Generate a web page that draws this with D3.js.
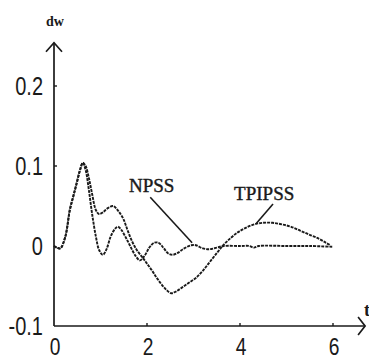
<!DOCTYPE html>
<html><head><meta charset="utf-8">
<script src="https://cdn.jsdelivr.net/npm/d3@7"></script>
<style>
html,body{margin:0;padding:0;background:#fff;}
svg{display:block;}
</style></head>
<body>
<svg id="c" width="369" height="361"></svg>
<script>
// ---- data ----
const xTicks = [0, 2, 4, 6];
const yTicks = [-0.1, 0, 0.1, 0.2];
const yTickLabels = ["-0.1", "0", "0.1", "0.2"];
const xTickLabels = ["0", "2", "4", "6"];

const npssTime = [0,0.13,0.24,0.34,0.41,0.49,0.56,0.62,0.68,0.75,0.82,0.9,0.97,1.05,1.13,1.22,1.32,1.38,1.45,1.55,1.63,1.75,1.85,1.95,2.05,2.15,2.25,2.35,2.45,2.55,2.65,2.8,2.95,3.05,3.2,3.35,3.5,3.65,4.0,4.2,4.3,4.4,5.0,5.5,6.0];
const npssValue = [0,-0.003,0.011,0.045,0.061,0.079,0.095,0.104,0.095,0.07,0.04,0.012,-0.005,-0.011,-0.004,0.012,0.022,0.024,0.02,0.01,0.001,-0.012,-0.018,-0.012,-0.002,0.004,0.004,-0.002,-0.009,-0.011,-0.009,-0.003,0.001,0.001,-0.003,-0.004,-0.002,0,0,0,-0.002,0,0,0,-0.001];

const tpipssTime = [0,0.13,0.24,0.34,0.41,0.49,0.56,0.62,0.68,0.75,0.82,0.9,0.97,1.05,1.15,1.27,1.38,1.49,1.58,1.67,1.78,1.9,2.0,2.1,2.2,2.3,2.42,2.52,2.62,2.75,2.9,3.05,3.2,3.35,3.5,3.64,3.8,3.95,4.1,4.3,4.5,4.7,4.9,5.1,5.3,5.5,5.7,5.85,5.95];
const tpipssValue = [0,-0.003,0.011,0.045,0.061,0.079,0.095,0.104,0.1,0.085,0.065,0.045,0.04,0.042,0.047,0.05,0.044,0.034,0.02,0.007,-0.005,-0.014,-0.022,-0.03,-0.039,-0.047,-0.055,-0.059,-0.057,-0.052,-0.046,-0.04,-0.031,-0.02,-0.009,0.001,0.01,0.017,0.022,0.027,0.029,0.029,0.027,0.024,0.019,0.014,0.009,0.004,0.001];

const labelNames = ["NPSS", "TPIPSS"];
const labelPos = [[2.1, 0.0675], [4.52, 0.0575]];
const leaderFrom = [[2.07, 0.061], [4.71, 0.0525]];
const leaderTo = [[2.97, 0.004], [4.34, 0.0275]];

// ---- chart ----
const svg = d3.select("#c");
const x = d3.scaleLinear().domain([0, 6]).range([54, 333]);
const y = d3.scaleLinear().domain([-0.1, 0.2]).range([326, 86]);
const ink = "#1a1a1a";

// axes lines
const xEnd = 6.69, yEnd = 0.254;
svg.append("line").attr("x1", x(0)).attr("y1", y(-0.1)).attr("x2", x(0)).attr("y2", y(yEnd))
  .attr("stroke", ink).attr("stroke-width", 1.7);
svg.append("line").attr("x1", x(0)).attr("y1", y(-0.1)).attr("x2", x(xEnd)).attr("y2", y(-0.1))
  .attr("stroke", ink).attr("stroke-width", 1.7);
// arrowheads
svg.append("path")
  .attr("d", `M${x(0)-8},${y(yEnd)+9} L${x(0)},${y(yEnd)} L${x(0)+8},${y(yEnd)+9}`)
  .attr("fill", "none").attr("stroke", ink).attr("stroke-width", 1.7);
svg.append("path")
  .attr("d", `M${x(xEnd)-7},${y(-0.1)-9} L${x(xEnd)},${y(-0.1)} L${x(xEnd)-7},${y(-0.1)+9}`)
  .attr("fill", "none").attr("stroke", ink).attr("stroke-width", 1.7);

// ticks
svg.selectAll(".xt").data(xTicks.slice(1)).enter().append("line")
  .attr("x1", d => x(d)).attr("x2", d => x(d)).attr("y1", y(-0.1)).attr("y2", y(-0.1) - 3)
  .attr("stroke", ink).attr("stroke-width", 1.4);
svg.selectAll(".yt").data(yTicks.slice(2)).enter().append("line")
  .attr("x1", x(0)).attr("x2", x(0) + 3).attr("y1", d => y(d)).attr("y2", d => y(d))
  .attr("stroke", ink).attr("stroke-width", 1.4);

const tickFont = "'Liberation Sans',Arial,sans-serif";
svg.selectAll(".yl").data(yTicks).enter().append("text")
  .attr("transform", d => `translate(${x(0) - 11},${y(d) + 9}) scale(0.8,1)`)
  .attr("text-anchor", "end").attr("font-family", tickFont).attr("font-size", 25)
  .attr("fill", ink).text((d, i) => yTickLabels[i]);
svg.selectAll(".xl").data(xTicks).enter().append("text")
  .attr("transform", d => `translate(${x(d) + 1},355) scale(0.8,1)`)
  .attr("text-anchor", "middle").attr("font-family", tickFont).attr("font-size", 24)
  .attr("fill", ink).text((d, i) => xTickLabels[i]);

// axis titles
svg.append("text").attr("x", x(0) + 1).attr("y", 26).attr("text-anchor", "middle")
  .attr("font-family", "'Liberation Serif',serif").attr("font-weight", "bold").attr("font-size", 14)
  .attr("fill", ink).text("dw");
svg.append("text").attr("x", 364).attr("y", 316)
  .attr("font-family", "'Liberation Serif',serif").attr("font-weight", "bold").attr("font-size", 18)
  .attr("fill", ink).text("t");

// curves
const line = d3.line().x(d => x(d[0])).y(d => y(d[1])).curve(d3.curveCatmullRom.alpha(0.5));
const series = [
  d3.zip(npssTime, npssValue),
  d3.zip(tpipssTime, tpipssValue)
];
svg.selectAll(".curve").data(series).enter().append("path")
  .attr("d", line).attr("fill", "none").attr("stroke", ink)
  .attr("stroke-width", 1.9).attr("stroke-dasharray", "3,1");

// leaders and labels
svg.selectAll(".lead").data(leaderFrom).enter().append("line")
  .attr("x1", d => x(d[0])).attr("y1", d => y(d[1]))
  .attr("x2", (d, i) => x(leaderTo[i][0])).attr("y2", (d, i) => y(leaderTo[i][1]))
  .attr("stroke", ink).attr("stroke-width", 1.6);
svg.selectAll(".lab").data(labelNames).enter().append("text")
  .attr("x", (d, i) => x(labelPos[i][0])).attr("y", (d, i) => y(labelPos[i][1]))
  .attr("text-anchor", "middle").attr("font-family", "'Liberation Serif',serif")
  .attr("font-size", 19).attr("fill", ink).attr("stroke", ink).attr("stroke-width", 0.4)
  .text(d => d);
</script>
</body></html>
